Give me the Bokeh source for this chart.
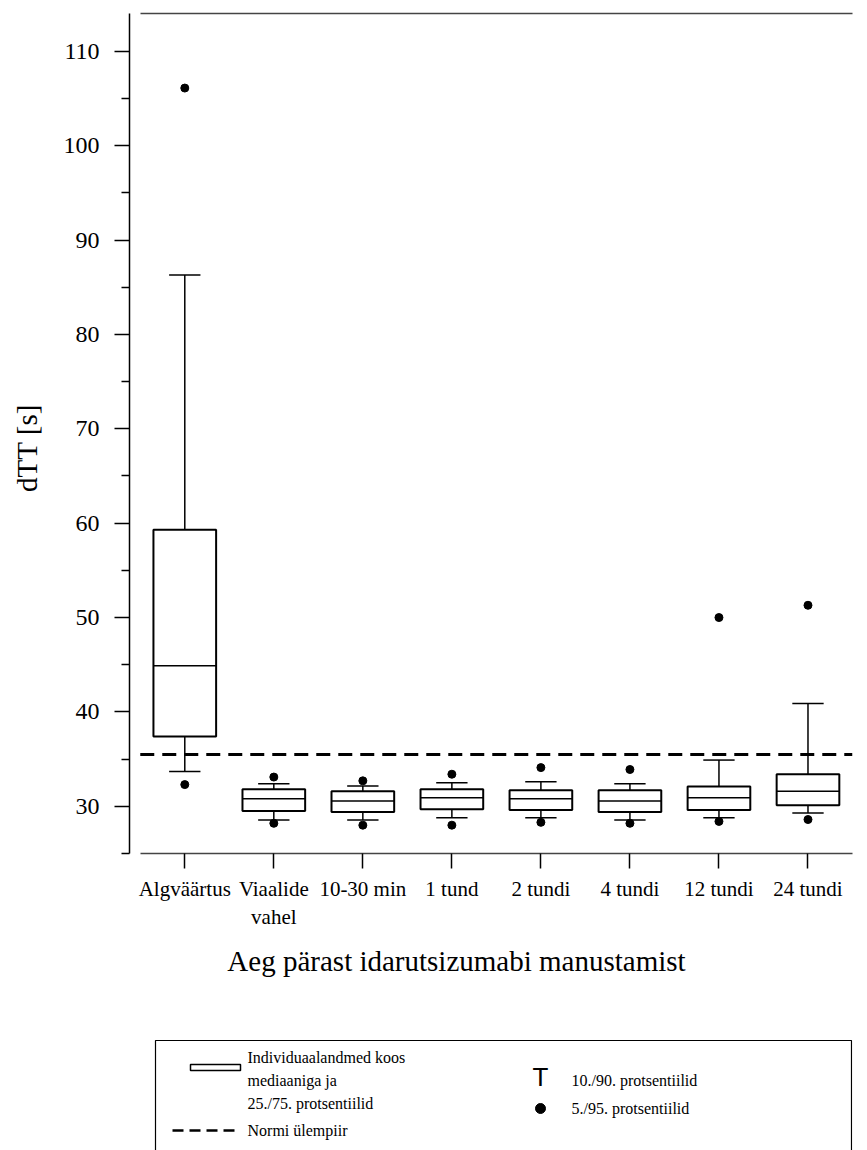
from bokeh.plotting import figure
from bokeh.models import Range1d, FixedTicker, LinearAxis
from bokeh.layouts import column
from bokeh.core.properties import value
from bokeh.embed import file_html
from bokeh.resources import INLINE

# ---- data ----
categories = ["Algväärtus", "Viaalide\nvahel", "10-30 min", "1 tund",
              "2 tundi", "4 tundi", "12 tundi", "24 tundi"]
positions = [1, 2, 3, 4, 5, 6, 7, 8]
p5 = [32.3, 28.2, 28.0, 28.0, 28.3, 28.2, 28.4, 28.6]
p10 = [33.7, 28.55, 28.55, 28.8, 28.8, 28.55, 28.8, 29.3]
q25 = [37.4, 29.5, 29.4, 29.7, 29.6, 29.4, 29.6, 30.1]
median = [44.9, 30.8, 30.55, 30.9, 30.8, 30.55, 30.9, 31.6]
q75 = [59.3, 31.8, 31.6, 31.8, 31.7, 31.7, 32.1, 33.4]
p90 = [86.3, 32.4, 32.15, 32.5, 32.6, 32.4, 34.9, 40.9]
p95 = [106.1, 33.1, 32.7, 33.4, 34.1, 33.9, 50.0, 51.3]
norm_upper = 35.5
y_major_ticks = [30, 40, 50, 60, 70, 80, 90, 100, 110]
y_minor_ticks = [25, 35, 45, 55, 65, 75, 85, 95, 105]

SERIF = "Liberation Serif"
BOX_HALF = 0.352
CAP_HALF = 0.176
LEFT, RIGHT, TOP, BOTTOM = 129, 7, 13, 85
WIDTH = 859
MAIN_H = 938
LOWER_H = 1150 - MAIN_H

p = figure(width=WIDTH, height=MAIN_H, x_range=Range1d(0.379, 8.5), y_range=Range1d(25, 114),
           output_backend="svg", toolbar_location=None,
           min_border_left=LEFT, min_border_right=RIGHT, min_border_top=TOP,
           min_border_bottom=BOTTOM)
p.grid.visible = False
p.outline_line_color = None
p.background_fill_color = "white"

# whiskers
p.segment(x0=positions, y0=q75, x1=positions, y1=p90, line_color="black", line_width=1.5)
p.segment(x0=positions, y0=p10, x1=positions, y1=q25, line_color="black", line_width=1.5)
left_cap = [x - CAP_HALF for x in positions]
right_cap = [x + CAP_HALF for x in positions]
p.segment(x0=left_cap, y0=p90, x1=right_cap, y1=p90, line_color="black", line_width=1.5)
p.segment(x0=left_cap, y0=p10, x1=right_cap, y1=p10, line_color="black", line_width=1.5)
# boxes
left_box = [x - BOX_HALF for x in positions]
right_box = [x + BOX_HALF for x in positions]
p.quad(left=left_box, right=right_box, bottom=q25, top=q75,
       fill_color="white", line_color="black", line_width=2)
p.segment(x0=left_box, y0=median, x1=right_box, y1=median, line_color="black", line_width=1.5)
# 5/95 percentiles
p.scatter(x=positions + positions, y=p5 + p95, size=8, color="black")
# upper normal limit
p.line(x=[0.5, 8.5], y=[norm_upper, norm_upper], line_color="black",
       line_width=3, line_dash="14 8")

# y axis
ya = p.yaxis[0]
ya.ticker = FixedTicker(ticks=y_major_ticks, minor_ticks=y_minor_ticks)
ya.major_tick_out = 15
ya.major_tick_in = 0
ya.minor_tick_out = 8
ya.minor_tick_in = 0
ya.axis_line_width = 1.5
ya.major_tick_line_width = 1.5
ya.minor_tick_line_width = 1.5
ya.axis_line_color = "black"
ya.major_label_text_font = SERIF
ya.major_label_text_font_size = "24px"
ya.major_label_text_color = "black"
ya.major_label_standoff = 15
ya.axis_label = "dTT [s]\u00a0\u00a0\u00a0\u00a0"
ya.axis_label_text_font = SERIF
ya.axis_label_text_font_size = "29px"
ya.axis_label_text_font_style = "normal"
ya.axis_label_text_color = "black"
ya.axis_label_standoff = 18

# x axis
xa = p.xaxis[0]
xa.ticker = FixedTicker(ticks=positions)
xa.major_label_overrides = {pos: cat for pos, cat in zip(positions, categories)}
xa.bounds = (0.5, 8.5)
xa.major_tick_out = 15
xa.major_tick_in = 0
xa.minor_tick_line_color = None
xa.axis_line_color = "#444444"
xa.axis_line_width = 1.5
xa.major_tick_line_width = 1.5
xa.major_tick_line_color = "black"
xa.major_label_text_font = SERIF
xa.major_label_text_font_size = "21px"
xa.major_label_text_color = "black"
xa.major_label_standoff = 8

# top frame line
top = LinearAxis(ticker=FixedTicker(ticks=[]), bounds=(0.5, 8.5))
top.major_label_text_font_size = "0px"
top.major_tick_out = 0
top.major_tick_in = 0
top.minor_tick_out = 0
top.minor_tick_in = 0
top.major_label_standoff = 0
top.axis_line_color = "#444444"
top.axis_line_width = 1.5
p.add_layout(top, "above")

# ---- lower panel: x axis title and legend (page pixel coordinates) ----
q = figure(width=WIDTH, height=LOWER_H, x_range=Range1d(LEFT, WIDTH - RIGHT),
           y_range=Range1d(1150, MAIN_H),
           output_backend="svg", toolbar_location=None, x_axis_type=None, y_axis_type=None,
           min_border_left=LEFT, min_border_right=RIGHT, min_border_top=0, min_border_bottom=0)
q.grid.visible = False
q.outline_line_color = None

q.text(x=[456], y=[960], text=["Aeg pärast idarutsizumabi manustamist"],
       text_font=value(SERIF), text_font_size="29px", text_align="center",
       text_baseline="alphabetic", text_color="black")

# legend frame (bottom edge cut off by page)
q.line(x=[155, 155, 851, 851], y=[1160, 1040, 1040, 1160], line_color="black", line_width=1.2)
q.quad(left=[190], right=[240], top=[1064], bottom=[1070], fill_color="white",
       line_color="black", line_width=1.5)
legend_texts = ["Individuaalandmed koos", "mediaaniga ja", "25./75. protsentiilid", "Normi ülempiir"]
q.text(x=[247, 247, 247, 247], y=[1057, 1080, 1103, 1130], text=legend_texts,
       text_font=value(SERIF), text_font_size="16px", text_align="left",
       text_baseline="middle", text_color="black")
q.line(x=[172, 237], y=[1130, 1130], line_color="black", line_width=2.5, line_dash="11 6")
q.text(x=[540], y=[1076], text=["T"], text_font=value("Liberation Sans"),
       text_font_size="26px", text_align="center", text_baseline="middle", text_color="black")
q.scatter(x=[540], y=[1108], size=10, color="black")
q.text(x=[571, 571], y=[1080, 1108], text=["10./90. protsentiilid", "5./95. protsentiilid"],
       text_font=value(SERIF), text_font_size="16px", text_align="left",
       text_baseline="middle", text_color="black")

layout = column(p, q, spacing=0)
open("out.html", "w").write(file_html(layout, INLINE))
